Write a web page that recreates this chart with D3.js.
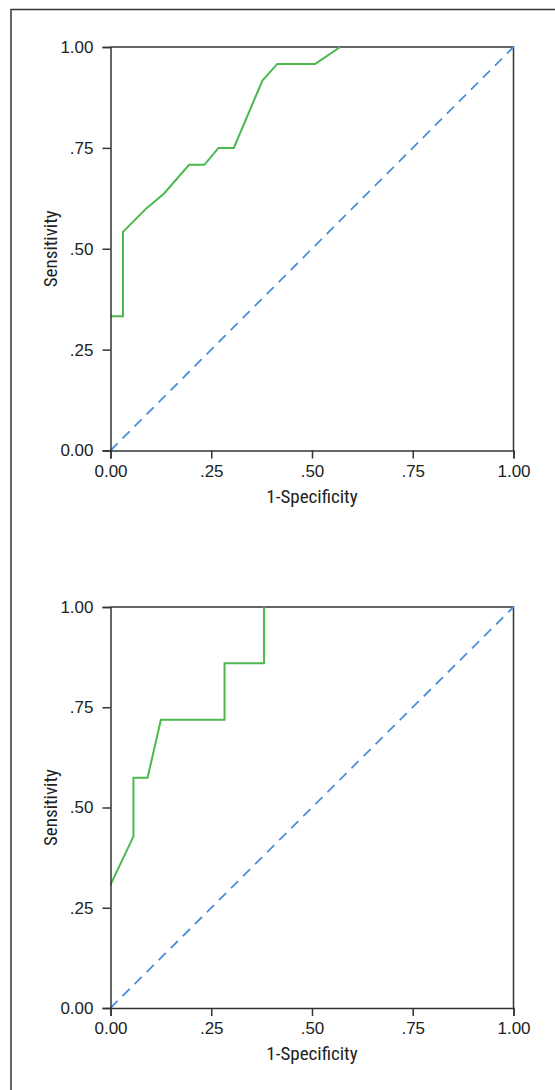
<!DOCTYPE html>
<html>
<head>
<meta charset="utf-8">
<script src="https://cdn.jsdelivr.net/npm/d3@7"></script>
<style>
  body { margin: 0; background: #fff; }
  svg text { font-family: "Liberation Sans Narrow", "Arial Narrow", "Roboto Condensed", sans-serif; fill: #222; }
</style>
</head>
<body>
<div class="container"></div>
<script>
const w = 555
const h = 1090

// axis ticks shared by both panels
const tickValues = [0, 0.25, 0.5, 0.75, 1]
const tickLabels = ["0.00", ".25", ".50", ".75", "1.00"]

// panel 1 roc curve
const rocTopFpr = [0, 0.031, 0.031, 0.089, 0.133, 0.195, 0.233, 0.268, 0.306, 0.377, 0.414, 0.508, 0.57]
const rocTopTpr = [0.333, 0.333, 0.542, 0.6, 0.637, 0.708, 0.708, 0.75, 0.75, 0.917, 0.958, 0.958, 1]

// panel 2 roc curve
const rocBotFpr = [0, 0.057, 0.057, 0.092, 0.125, 0.283, 0.283, 0.381, 0.381]
const rocBotTpr = [0.307, 0.428, 0.574, 0.574, 0.719, 0.719, 0.86, 0.86, 1]

// reference diagonal
const diagonal = [0, 1]

const svg = d3.select('.container')
    .append('svg')
    .attr('width', w)
    .attr('height', h)

// outer frame
svg.append('rect')
    .attr('x', 11)
    .attr('y', 9.5)
    .attr('width', 560)
    .attr('height', 1100)
    .attr('fill', 'none')
    .attr('stroke', '#333')
    .attr('stroke-width', 1.5)

const drawPanel = (top, bottom, fpr, tpr) => {
    const left = 110.5
    const right = 513.5

    const xScale = d3.scaleLinear().domain([0, 1]).range([left, right])
    const yScale = d3.scaleLinear().domain([0, 1]).range([bottom, top])

    const g = svg.append('g')

    // top and right frame lines
    g.append('path')
        .attr('d', `M${left},${top}H${right}V${bottom}`)
        .attr('fill', 'none')
        .attr('stroke', '#333')
        .attr('stroke-width', 1.5)

    // diagonal
    g.append('path')
        .attr('d', d3.line().x(d => xScale(d)).y(d => yScale(d))(diagonal))
        .attr('fill', 'none')
        .attr('stroke', '#4a90d9')
        .attr('stroke-width', 1.8)
        .attr('stroke-dasharray', '10,7')

    // roc curve
    const pts = fpr.map((f, i) => [f, tpr[i]])
    g.append('path')
        .attr('d', d3.line().x(d => xScale(d[0])).y(d => yScale(d[1]))(pts))
        .attr('fill', 'none')
        .attr('stroke', '#4cb94f')
        .attr('stroke-width', 2)

    const xAxis = d3.axisBottom(xScale)
        .tickValues(tickValues)
        .tickFormat((d, i) => tickLabels[i])
        .tickSize(8)
        .tickPadding(6)
    const yAxis = d3.axisLeft(yScale)
        .tickValues(tickValues)
        .tickFormat((d, i) => tickLabels[i])
        .tickSize(8)
        .tickPadding(9)

    const gx = g.append('g')
        .attr('transform', 'translate(0,' + bottom + ')')
        .call(xAxis)
    const gy = g.append('g')
        .attr('transform', 'translate(' + left + ',0)')
        .call(yAxis)

    ;[gx, gy].forEach(ax => {
        ax.select('.domain').attr('stroke', '#333').attr('stroke-width', 1.5)
        ax.selectAll('.tick line').attr('stroke', '#333').attr('stroke-width', 1.5)
        ax.selectAll('.tick text')
            .attr('font-size', 17)
            .attr('fill', '#222')
            .style('font-family', '"Liberation Sans Narrow", "Arial Narrow", sans-serif')
    })

    g.append('text')
        .text('1-Specificity')
        .attr('x', (left + right) / 2)
        .attr('y', bottom + 52)
        .attr('text-anchor', 'middle')
        .attr('font-size', 19)

    g.append('text')
        .text('Sensitivity')
        .attr('transform', `translate(57,${(top + bottom) / 2}) rotate(-90)`)
        .attr('text-anchor', 'middle')
        .attr('font-size', 19)
}

drawPanel(47, 450.5, rocTopFpr, rocTopTpr)
drawPanel(607, 1008, rocBotFpr, rocBotTpr)
</script>
</body>
</html>
